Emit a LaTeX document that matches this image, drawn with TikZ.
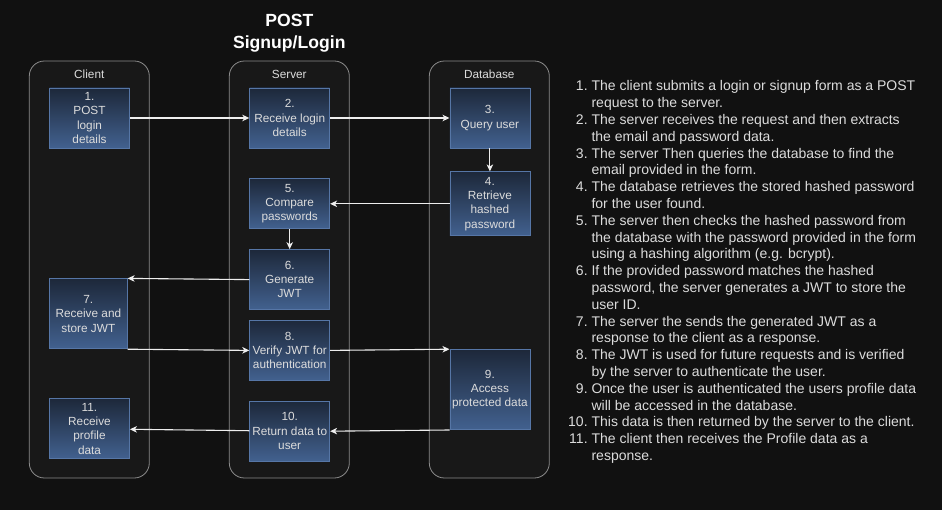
\documentclass[tikz,border=0pt]{standalone}
\usepackage{fontspec}
\setmainfont{Liberation Sans}
\usepackage{xcolor}
\usetikzlibrary{positioning}
\usetikzlibrary{arrows.meta}
\definecolor{bgc}{HTML}{111111}
\definecolor{lanefill}{HTML}{181818}
\definecolor{lanec}{HTML}{8C8C8C}
\definecolor{boxtop}{HTML}{1D283A}
\definecolor{boxbot}{HTML}{42618F}
\definecolor{boxline}{HTML}{5676A6}
\definecolor{txt}{HTML}{DCDCDC}
\definecolor{arrowc}{HTML}{EEEEEE}

\begin{document}
\begin{tikzpicture}[x=1pt, y=1pt, node distance=20pt,
		lane/.style={draw=lanec, fill=lanefill, rounded corners=15pt, line width=0.8pt, minimum width=120pt, minimum height=417pt, inner sep=0pt},
		lanetitle/.style={text=txt, font=\fontsize{11.8}{13}\selectfont},
		box/.style={draw=boxline, line width=0.8pt, top color=boxtop, bottom color=boxbot, text=txt, align=center, minimum width=80pt, minimum height=60pt, inner sep=1pt, font=\fontsize{11.8}{14.3}\selectfont},
		flow/.style={draw=arrowc, line width=1.1pt, -{Stealth[length=7pt,width=6.5pt,inset=2pt]}}]
		\useasboundingbox[fill=bgc] (0,0) rectangle (942,-510);
		% lanes
		\node[lane] (client) at (89.3,-269.5) {};
		\node[lane] (server) at (289.3,-269.5) {};
		\node[lane] (db) at (489.3,-269.5) {};
		\node[lanetitle] at ([yshift=-14pt]client.north) {Client};
		\node[lanetitle] at ([yshift=-14pt]server.north) {Server};
		\node[lanetitle] at ([yshift=-14pt]db.north) {Database};
		\node[text=white, align=center, font=\fontsize{17.6}{22}\selectfont\bfseries] (title) at (289.3,-33) {POST\\Signup/Login};
		% steps
		\node[box] (n1) at (89.5,-118) {1.\\POST\\login\\details};
		\node[box, right = 119.4pt of n1] (n2) {2.\\Receive login\\details};
		\node[box, right = 119.4pt of n2] (n3) {3.\\Query user};
		\node[box, below = 23pt of n3, minimum height=64pt] (n4) {4.\\Retrieve\\hashed\\password};
		\node[box, below = 30pt of n2, minimum height=50pt] (n5) {5.\\Compare\\passwords};
		\node[box, below = 20pt of n5] (n6) {6.\\Generate\\JWT};
		\node[box, below = 10pt of n6] (n8) {8.\\Verify JWT for\\authentication};
		\node[box, below = 20pt of n8] (n10) {10.\\Return data to\\user};
		\node[box, below = 130pt of n1.south west, anchor=north west, minimum width=77.7pt, minimum height=70pt] (n7) {7.\\Receive and\\store JWT};
		\node[box, below = 250pt of n1] (n11) {11.\\Receive\\profile\\data};
		\node[box, below = 113pt of n4, minimum height=80pt] (n9) {9.\\Access\\protected data};
		% connectors
		\draw[flow] (n1) -- (n2);
		\draw[flow] (n2) -- (n3);
		\draw[flow] (n3) -- (n4);
		\draw[flow] (n4) -- (n5);
		\draw[flow] (n5) -- (n6);
		\draw[flow] (n6.west) -- (n7.north east);
		\draw[flow] (n7.south east) -- (n8.west);
		\draw[flow] (n8.east) -- (n9.north west);
		\draw[flow] (n9.south west) -- (n10.east);
		\draw[flow] (n10) -- (n11);
		% description
		\node[anchor=north west, inner sep=0pt, text=txt, font=\fontsize{14}{16.8}\selectfont] (steps) at (568,-79) {%
			\begin{tabular}{@{}r@{\hskip 3.9pt}l@{}}
				1. & The client submits a login or signup form as a POST\\
				& request to the server.\\
				2. & The server receives the request and then extracts\\
				& the email and password data.\\
				3. & The server Then queries the database to find the\\
				& email provided in the form.\\
				4. & The database retrieves the stored hashed password\\
				& for the user found.\\
				5. & The server then checks the hashed password from\\
				& the database with the password provided in the form\\
				& using a hashing algorithm (e.g. bcrypt).\\
				6. & If the provided password matches the hashed\\
				& password, the server generates a JWT to store the\\
				& user ID.\\
				7. & The server the sends the generated JWT as a\\
				& response to the client as a response.\\
				8. & The JWT is used for future requests and is verified\\
				& by the server to authenticate the user.\\
				9. & Once the user is authenticated the users profile data\\
				& will be accessed in the database.\\
				10. & This data is then returned by the server to the client.\\
				11. & The client then receives the Profile data as a\\
				& response.
			\end{tabular}};
	\end{tikzpicture}
\end{document}
